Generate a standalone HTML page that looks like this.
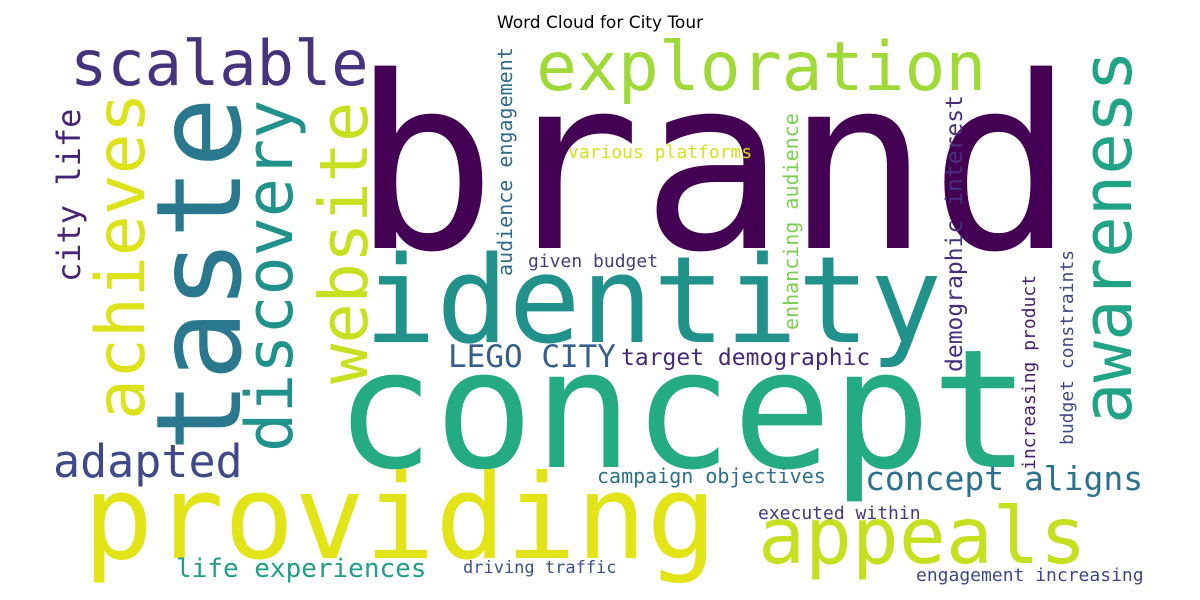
<!DOCTYPE html>
<html>
<head>
<meta charset="utf-8">
<style>
  html,body{margin:0;padding:0;background:#fff;}
  svg{display:block;}
  text.w{font-family:"DejaVu Sans Mono","Liberation Mono",monospace;}
  text.title{font-family:"DejaVu Sans","Liberation Sans",sans-serif;font-size:17px;fill:#000;}
</style>
</head>
<body>
<svg id="chart" width="1200" height="600" viewBox="0 0 1200 600" xmlns="http://www.w3.org/2000/svg">
  <rect x="0" y="0" width="1200" height="600" fill="#fff"/>
  <text class="title" x="600" y="28" text-anchor="middle">Word Cloud for City Tour</text>
  <g id="words"></g>
</svg>
<script>
const words = ["brand","identity","concept","providing","taste","exploration","scalable","achieves","discovery","website","awareness","appeals","adapted","city life","LEGO CITY","target demographic","concept aligns","life experiences","campaign objectives","driving traffic","executed within","engagement increasing","various platforms","given budget","audience engagement","enhancing audience","demographic interest","increasing product","budget constraints"];
const sizes = [240,120,165,117,118,68,62,68,65,67,69,78,45,32,31,23,33,26,20,17,18,18,18,18,20,20,23,18,18];
const colors = ["#440154","#21918c","#25ab81","#e2e418","#2a788e","#a0da39","#46337e","#dde318","#21918c","#c8e020","#20a386","#c5e021","#3e4a89","#482475","#355f8d","#482878","#2c728e","#1f9e89","#2d708e","#3b528b","#453781","#3e4989","#d8e219","#433e85","#2f6c8e","#7ad151","#46307e","#481d6f","#3e4a89"];
// layout: [x, y, vertical]
const layout = [[352,248,0],[364,342,0],[335,467,0],[83,558,0],[240,452,1],[536,90,0],[70,85,0],[144,420,1],[292,452,1],[367,384,1],[1131,424,1],[758,563,0],[53,477,0],[80,282,1],[448,367,0],[621,365,0],[865,490,0],[176,577,0],[597,483,0],[463,573,0],[758,519,0],[916,581,0],[568,158,0],[528,267,0],[512,276,1],[798,330,1],[962,372,1],[1035,470,1],[1073,445,1]];
const g = document.getElementById('words');
const NS = "http://www.w3.org/2000/svg";
for (let i = 0; i < words.length; i++) {
  const t = document.createElementNS(NS, 'text');
  t.setAttribute('class', 'w');
  const [x, y, v] = layout[i];
  if (v) t.setAttribute('transform', 'translate(' + x + ',' + y + ') rotate(-90)');
  else { t.setAttribute('x', x); t.setAttribute('y', y); }
  t.setAttribute('font-size', sizes[i]);
  t.setAttribute('fill', colors[i]);
  t.textContent = words[i];
  
  
  g.appendChild(t);
}
</script>
</body>
</html>
